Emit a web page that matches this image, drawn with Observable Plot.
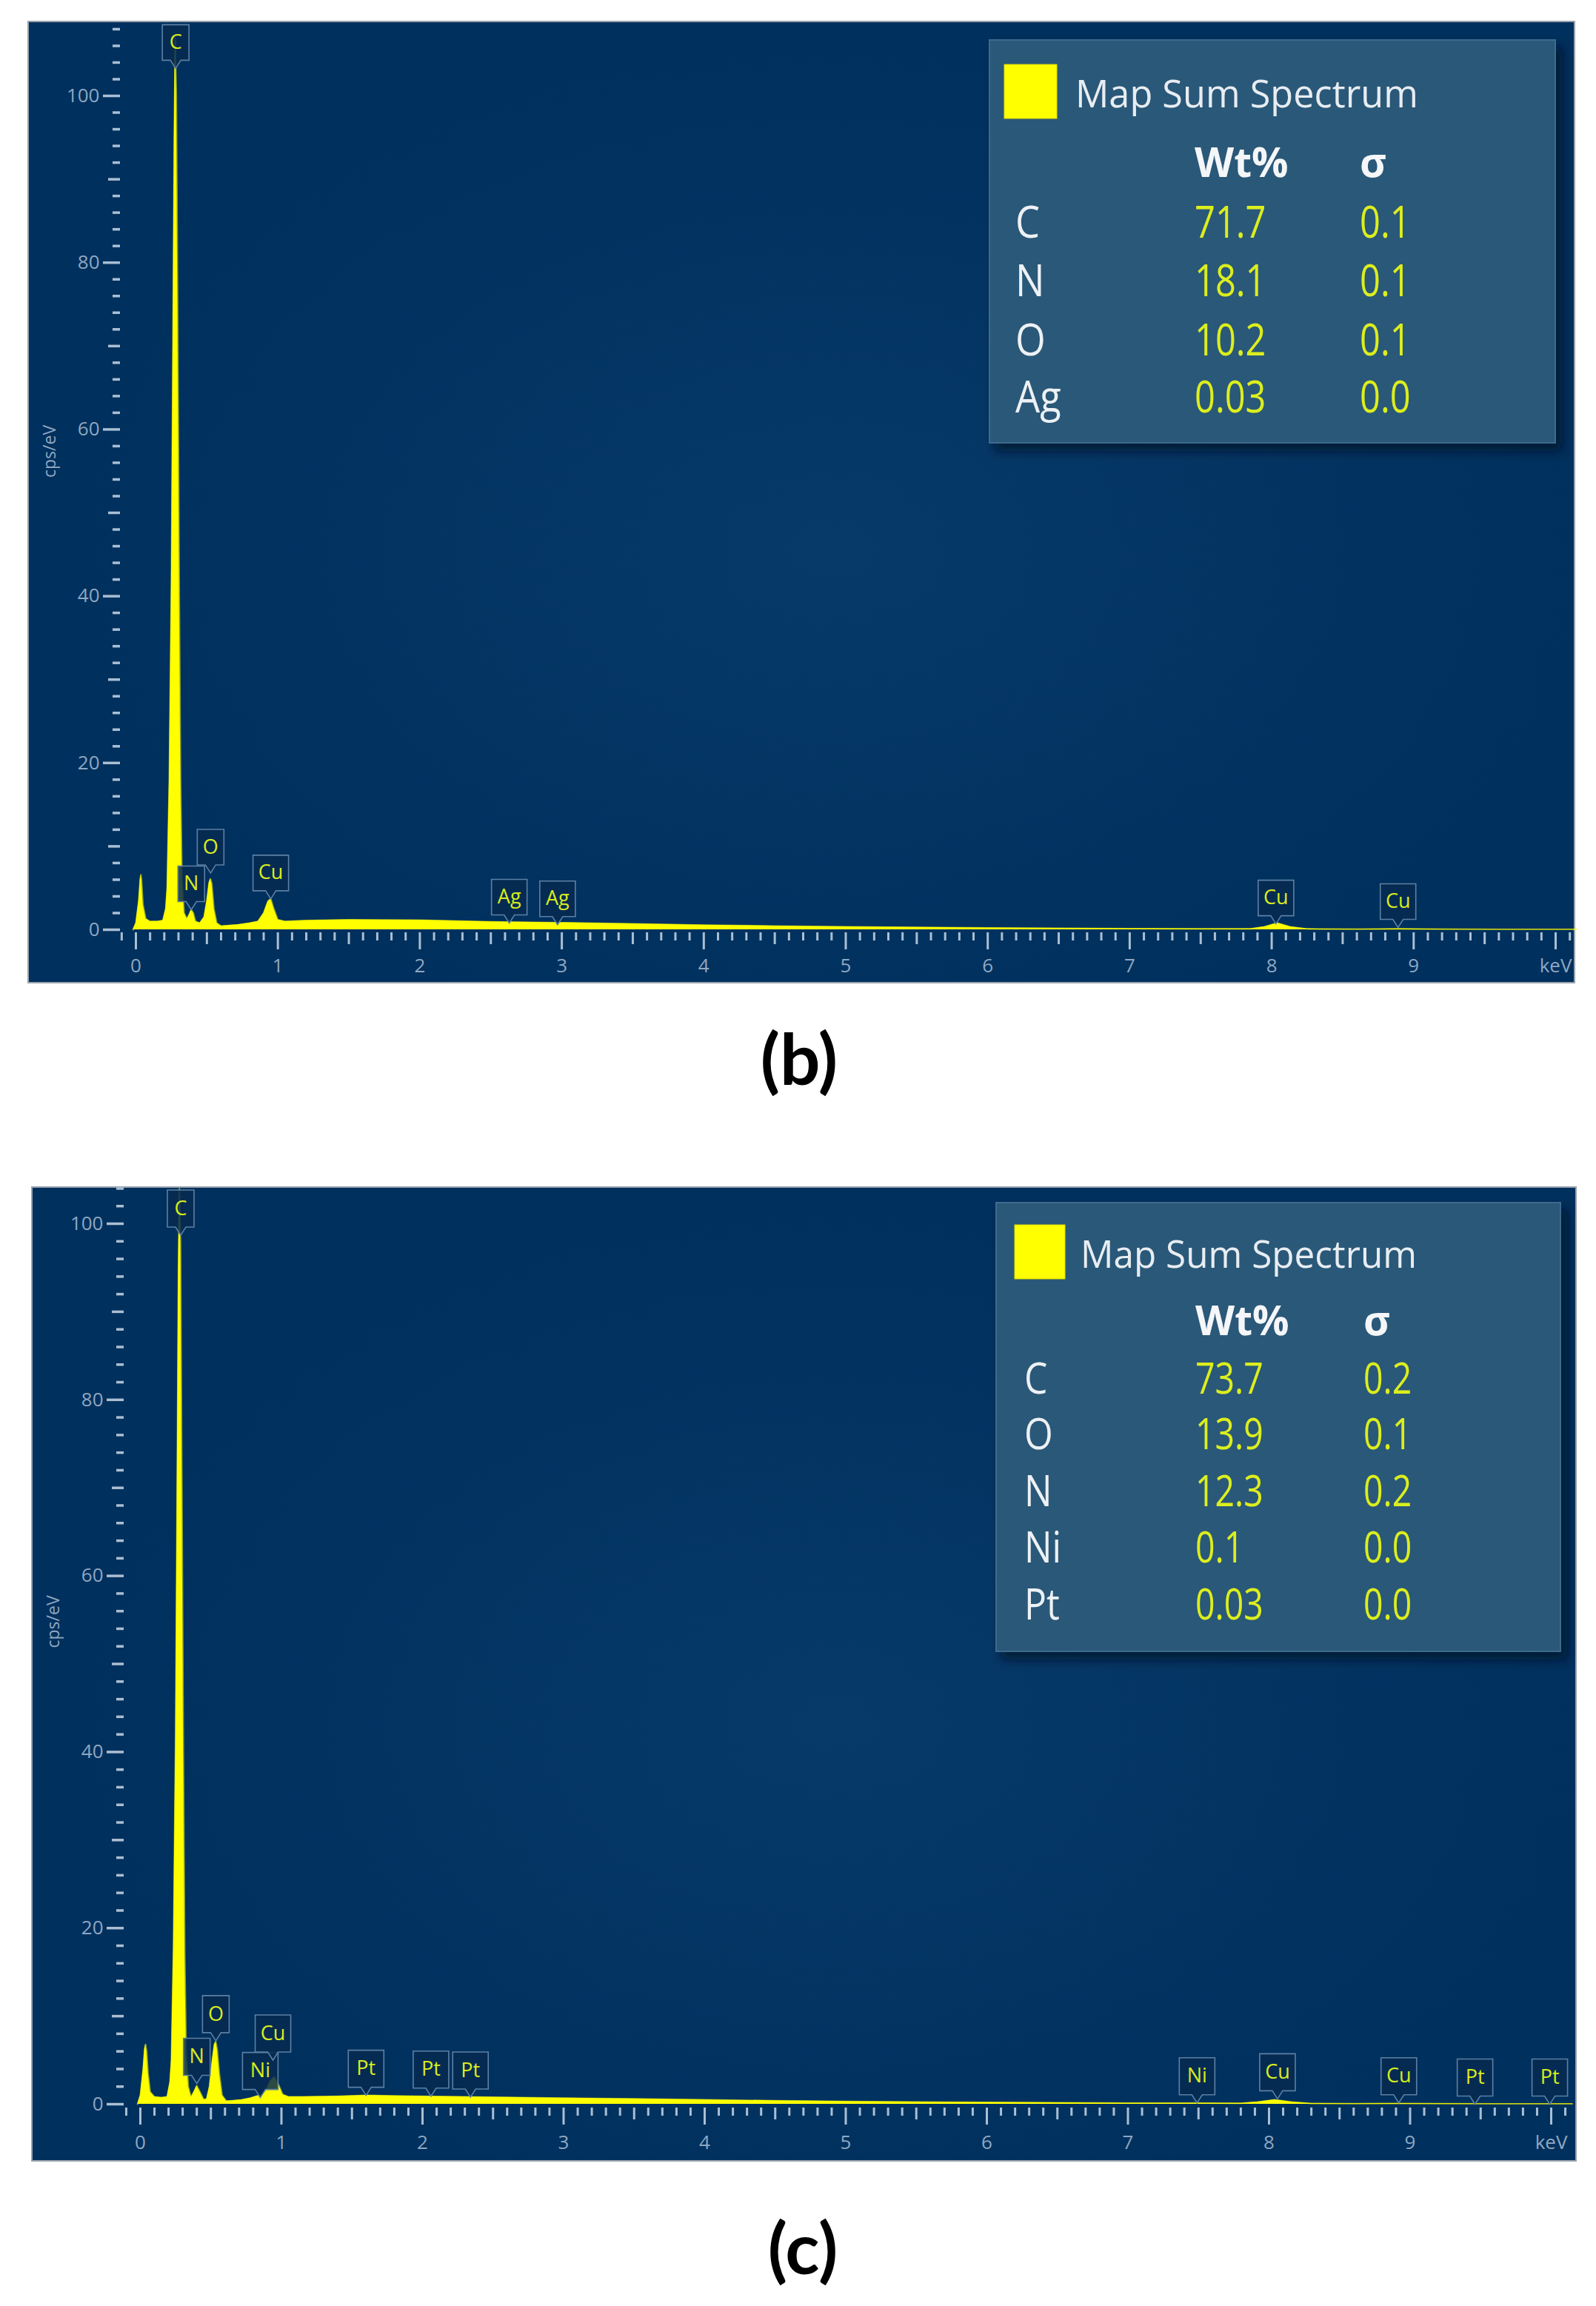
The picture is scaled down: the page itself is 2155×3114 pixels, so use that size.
<!DOCTYPE html>
<html><head><meta charset="utf-8">
<script src="https://cdn.jsdelivr.net/npm/d3@7"></script>
<script src="https://cdn.jsdelivr.net/npm/@observablehq/plot@0.6"></script>
<style>
body{margin:0;background:#fff;}
#page{position:relative;width:2155px;height:3114px;overflow:hidden;background:#fff;}
.panel{position:absolute;box-shadow:0 0 0 2px #9aa3ad;}
.legend{position:absolute;}
.caption{position:absolute;font-family:Lato,"Open Sans",sans-serif;font-weight:700;font-size:96px;line-height:96px;color:#000;text-align:center;width:400px;}
</style></head><body><div id="page"></div>
<script>
// ---------- Data: panel (b) ----------
const b_keV = [-0.02,0.00,0.02,0.03,0.035,0.04,0.05,0.07,0.10,0.15,0.19,0.21,0.22,0.235,0.25,0.26,0.27,0.277,0.285,0.295,0.305,0.315,0.325,0.34,0.36,0.375,0.39,0.405,0.42,0.45,0.48,0.50,0.515,0.525,0.535,0.55,0.57,0.60,0.65,0.72,0.80,0.86,0.90,0.93,0.95,0.97,1.00,1.05,1.20,1.50,2.00,2.50,3.00,3.50,4.00,4.50,5.00,5.50,6.00,6.50,7.00,7.50,7.85,7.95,8.04,8.13,8.25,8.60,8.90,9.20,9.60,10.15];
const b_cps = [0,0.8,3.5,6.0,6.6,6.0,3.0,1.3,1.0,1.0,1.1,2.5,5,18,42,68,95,107,100,72,42,18,6,2,1.3,1.8,2.4,2.0,1.0,0.8,1.5,3.5,5.6,6.1,5.5,2.5,0.8,0.45,0.5,0.6,0.8,1.0,2.0,3.4,3.7,2.6,1.2,1.0,1.1,1.2,1.15,0.95,0.85,0.7,0.55,0.45,0.35,0.28,0.22,0.17,0.13,0.1,0.12,0.35,0.8,0.35,0.1,0.07,0.1,0.06,0.05,0.04];
const b_lineNames = ["C","N","O","Cu","Ag","Ag","Cu","Cu"];
const b_lineKeV = [0.28,0.39,0.526,0.95,2.63,2.97,8.03,8.89];
const b_lineTip = [103.3,2.4,6.8,3.7,0.8,0.6,0.7,0.27];
const b_elements = ["C","N","O","Ag"];
const b_wt = ["71.7","18.1","10.2","0.03"];
const b_sigma = ["0.1","0.1","0.1","0.0"];

// ---------- Data: panel (c) ----------
const c_keV = [-0.02,0.00,0.02,0.03,0.037,0.045,0.055,0.07,0.10,0.15,0.19,0.21,0.22,0.235,0.25,0.26,0.27,0.277,0.285,0.295,0.305,0.315,0.325,0.34,0.36,0.38,0.40,0.42,0.45,0.47,0.49,0.51,0.525,0.535,0.545,0.56,0.58,0.61,0.65,0.72,0.78,0.83,0.86,0.89,0.92,0.95,0.98,1.01,1.05,1.15,1.40,1.60,1.80,2.00,2.50,3.00,3.50,4.00,4.50,5.00,5.50,6.00,6.50,7.00,7.48,7.80,7.92,8.04,8.16,8.30,8.60,8.90,9.20,9.60,10.15];
const c_cps = [0,1.0,4.0,6.2,6.8,6.0,3.5,1.4,0.85,0.75,0.85,2.5,5,18,42,68,95,104,98,70,40,17,6,2.0,0.8,1.4,2.1,1.5,0.5,0.6,2.0,5.0,6.8,7.1,6.2,3.5,1.0,0.35,0.4,0.5,0.7,0.95,1.0,1.5,2.6,3.1,2.2,1.1,0.85,0.85,0.9,1.0,0.95,0.9,0.8,0.7,0.6,0.5,0.4,0.32,0.26,0.2,0.16,0.13,0.12,0.1,0.25,0.5,0.25,0.08,0.07,0.08,0.06,0.05,0.05];
const c_lineNames = ["C","N","O","Ni","Cu","Pt","Pt","Pt","Ni","Cu","Cu","Pt","Pt"];
const c_lineKeV = [0.286,0.40,0.535,0.85,0.94,1.60,2.06,2.34,7.49,8.06,8.92,9.46,9.99];
const c_lineTip = [98.7,2.35,7.2,0.75,5.0,1.0,0.9,0.8,0.15,0.6,0.15,0.0,0.0];
const c_elements = ["C","O","N","Ni","Pt"];
const c_wt = ["73.7","13.9","12.3","0.1","0.03"];
const c_sigma = ["0.2","0.1","0.2","0.0","0.0"];

// ---------- Axis ticks ----------
const yMajor = [0,20,40,60,80,100];
const yMid = [10,30,50,70,90];
const xMajor = [0,1,2,3,4,5,6,7,8,9,10];
const xMid = [0.5,1.5,2.5,3.5,4.5,5.5,6.5,7.5,8.5,9.5];
const xLabelFor10 = "keV";
const legendTitle = "Map Sum Spectrum";
const legendHead = ["Wt%","σ"];

// ---------- Styles ----------
const TICK = "#aabfd4", TLAB = "#8ea7c2", FONT = "Open Sans, sans-serif";
const SPEC = "#ffff00", LABTXT = "#d8ec1e";

function callout(w, h, p) {
  return {draw(ctx) {
    ctx.moveTo(0, 0); ctx.lineTo(-7, -p); ctx.lineTo(-w/2, -p); ctx.lineTo(-w/2, -p-h);
    ctx.lineTo(w/2, -p-h); ctx.lineTo(w/2, -p); ctx.lineTo(7, -p); ctx.closePath();
  }};
}

function panel(cfg) {
  const spec = cfg.keV.map((e, i) => ({e, c: cfg.cps[i]}));
  const lines = cfg.names.map((n, i) => ({n, e: cfg.lineKeV[i], t: cfg.tip[i]}));
  const yMinor = d3.range(2, cfg.yTop, 2).filter(d => d % 10 !== 0);
  const xMinor = d3.range(-1, 102).map(d => d / 10).filter(d => Math.round(d * 10) % 5 !== 0);
  const H = cfg.boxH, P = 11;
  return Plot.plot({
    width: cfg.width, height: cfg.height,
    marginLeft: cfg.axisX, marginRight: 0, marginTop: 0, marginBottom: cfg.mb,
    style: {background: "radial-gradient(ellipse 65% 70% at 52% 55%, rgba(18,72,122,0.4), rgba(0,48,94,0) 75%), #00305d", overflow: "visible"},
    x: {domain: [0, 10], range: [cfg.x0, cfg.x0 + 10 * cfg.pxk], axis: null},
    y: {domain: [0, 100], range: [cfg.y0, cfg.y0 - 100 * cfg.pxc], axis: null},
    marks: [
      Plot.axisY(yMinor, {anchor: "left", tickSize: 10, tickFormat: () => "", label: null, stroke: TICK, strokeWidth: 3.5}),
      Plot.axisY(yMid, {anchor: "left", tickSize: 16, tickFormat: () => "", label: null, stroke: TICK, strokeWidth: 3.5}),
      Plot.axisY(yMajor, {anchor: "left", tickSize: 23, tickPadding: 5, label: null, stroke: TICK, strokeWidth: 3.5, fill: TLAB, fontSize: 26, fontFamily: FONT}),
      Plot.axisX(xMinor, {anchor: "bottom", tickSize: 11, tickFormat: () => "", label: null, stroke: TICK, strokeWidth: 3}),
      Plot.axisX(xMid, {anchor: "bottom", tickSize: 16, tickFormat: () => "", label: null, stroke: TICK, strokeWidth: 3}),
      Plot.axisX(xMajor, {anchor: "bottom", tickSize: 23, tickPadding: cfg.tp, label: null, stroke: TICK, strokeWidth: 3, fill: TLAB, fontSize: 26, fontFamily: FONT,
        tickFormat: d => d === 10 ? xLabelFor10 : String(d)}),
      Plot.text(["cps/eV"], {frameAnchor: "left", dx: -95, rotate: -90, fill: TLAB, fontSize: 23, fontFamily: FONT}),
      Plot.areaY(spec, {x: "e", y: "c", fill: SPEC}),
      Plot.lineY(spec, {x: "e", y: "c", stroke: SPEC, strokeWidth: 2, strokeOpacity: 0.55}),
      Plot.dot(lines.filter(d => d.n.length === 1), {x: "e", y: "t", r: 5, symbol: callout(36, H, P), fill: "#072a50", fillOpacity: 0.85, stroke: "#5c80a4", strokeWidth: 1.6}),
      Plot.dot(lines.filter(d => d.n.length > 1), {x: "e", y: "t", r: 5, symbol: callout(48, H, P), fill: "#072a50", fillOpacity: 0.85, stroke: "#5c80a4", strokeWidth: 1.6}),
      Plot.text(lines, {x: "e", y: "t", text: "n", dy: -(P + H / 2), fill: LABTXT, fontSize: 27, fontFamily: FONT})
    ]
  });
}

function legend(cfg) {
  const svg = d3.create("svg").attr("width", cfg.w).attr("height", cfg.h).style("display", "block").style("overflow", "visible");
  const defs = svg.append("defs");
  const f = defs.append("filter").attr("id", "sh" + cfg.id).attr("x", "-10%").attr("y", "-10%").attr("width", "130%").attr("height", "130%");
  f.append("feDropShadow").attr("dx", 8).attr("dy", 10).attr("stdDeviation", 7).attr("flood-color", "#001020").attr("flood-opacity", 0.7);
  svg.append("rect").attr("width", cfg.w).attr("height", cfg.h).attr("fill", "#2c5878").attr("stroke", "#3c6a8e").attr("stroke-width", 2).attr("filter", `url(#sh${cfg.id})`);
  svg.append("rect").attr("x", cfg.sq[0]).attr("y", cfg.sq[1]).attr("width", cfg.sq[2]).attr("height", cfg.sq[3]).attr("fill", "#ffff00").attr("stroke", "#d9d900");
  svg.append("text").attr("transform", `translate(${cfg.titleX},${cfg.titleY}) scale(0.97,1)`).attr("font-family", FONT).attr("font-size", cfg.titleFs).attr("fill", "#e8edf2").text(legendTitle);
  [cfg.colW, cfg.colS].forEach((x, j) => svg.append("text").attr("x", x).attr("y", cfg.headY).attr("font-family", FONT).attr("font-weight", 700).attr("font-size", cfg.headFs).attr("fill", "#f4f6f8").text(legendHead[j]));
  cfg.el.forEach((e, i) => {
    const y = cfg.rows[i];
    const t = (x, txt, col, sx) => svg.append("text").attr("transform", `translate(${x},${y}) scale(${sx},1)`).attr("font-family", FONT).attr("font-size", cfg.rowFs).attr("fill", col).text(txt);
    t(cfg.elX, e, "#edf1f5", 0.86);
    t(cfg.colW, cfg.wt[i], "#dcee1e", 0.8);
    t(cfg.colS, cfg.sg[i], "#dcee1e", 0.8);
  });
  return svg.node();
}

const page = document.getElementById("page");
function place(node, left, top, w, h, cls) {
  const d = document.createElement("div");
  d.className = cls; d.style.left = left + "px"; d.style.top = top + "px";
  if (w) d.style.width = w + "px"; if (h) d.style.height = h + "px";
  d.appendChild(node); page.appendChild(d); return d;
}

// Panel (b)
place(panel({keV: b_keV, cps: b_cps, names: b_lineNames, lineKeV: b_lineKeV, tip: b_lineTip,
  width: 2086, height: 1296, x0: 144, pxk: 191.7, y0: 1225, pxc: 11.26, axisX: 123, mb: 67, tp: 12, yTop: 109, boxH: 48}), 39, 30, 2086, 1296, "panel");
place(legend({id: "b", w: 764, h: 544, sq: [20, 33, 71, 73], titleX: 116, titleY: 91, titleFs: 52, headY: 185, headFs: 55,
  colW: 277, colS: 500, elX: 35, rows: [267, 346, 426, 503], rowFs: 61, el: b_elements, wt: b_wt, sg: b_sigma}), 1336, 54, 0, 0, "legend");

// Panel (c)
place(panel({keV: c_keV, cps: c_cps, names: c_lineNames, lineKeV: c_lineKeV, tip: c_lineTip,
  width: 2083, height: 1313, x0: 145, pxk: 190.5, y0: 1237, pxc: 11.89, axisX: 123, mb: 71, tp: 14, yTop: 105, boxH: 50}), 44, 1604, 2083, 1313, "panel");
place(legend({id: "c", w: 762, h: 606, sq: [25, 30, 68, 73], titleX: 114, titleY: 88, titleFs: 51, headY: 179, headFs: 55,
  colW: 269, colS: 496, elX: 38, rows: [258, 333, 410, 486, 563], rowFs: 58, el: c_elements, wt: c_wt, sg: c_sigma}), 1345, 1624, 0, 0, "legend");

// Captions
const capB = document.createElement("div"); capB.className = "caption"; capB.textContent = "(b)";
capB.style.left = (1079 - 200) + "px"; capB.style.top = "1380px"; page.appendChild(capB);
const capC = document.createElement("div"); capC.className = "caption"; capC.textContent = "(c)";
capC.style.left = (1084 - 200) + "px"; capC.style.top = "2986px"; page.appendChild(capC);
</script></body></html>
